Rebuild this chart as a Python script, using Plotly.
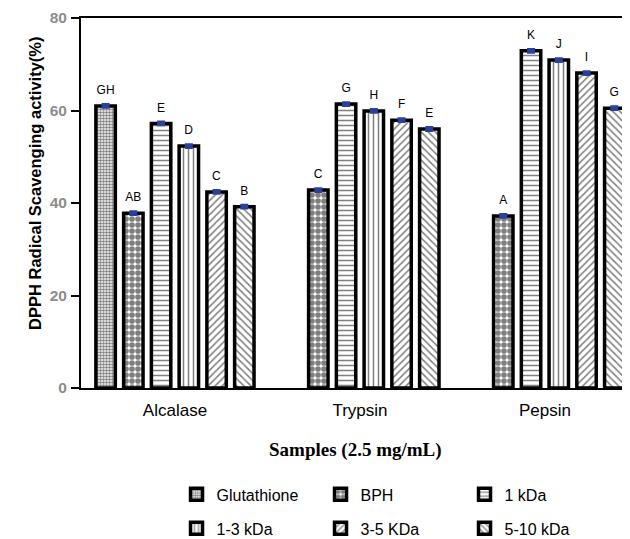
import plotly.graph_objects as go

categories = ["Alcalase", "Trypsin", "Pepsin"]
series_names = ["Glutathione", "BPH", "1 kDa", "1-3 kDa", "3-5 KDa", "5-10 kDa"]
glutathione = [61.0, None, None]
bph = [37.8, 42.8, 37.2]
kda_1 = [57.2, 61.4, 72.9]
kda_1_3 = [52.3, 59.9, 70.9]
kda_3_5 = [42.4, 57.9, 68.1]
kda_5_10 = [39.2, 56.0, 60.5]
errors = [0.3, 0.3, 0.3]
letters_glutathione = ["GH", "", ""]
letters_bph = ["AB", "C", "A"]
letters_1 = ["E", "G", "K"]
letters_1_3 = ["D", "H", "J"]
letters_3_5 = ["C", "F", "I"]
letters_5_10 = ["B", "E", "G"]
y_ticks = [0, 20, 40, 60, 80]

values = [glutathione, bph, kda_1, kda_1_3, kda_3_5, kda_5_10]
letters = [letters_glutathione, letters_bph, letters_1, letters_1_3, letters_3_5, letters_5_10]
patterns = [
    dict(shape=".", size=3, solidity=0.6),
    dict(shape=".", size=6, solidity=0.7),
    dict(shape="-", size=5, solidity=0.3),
    dict(shape="|", size=5, solidity=0.3),
    dict(shape="/", size=5, solidity=0.3),
    dict(shape="\\", size=5, solidity=0.3),
]
legend_ids = ["legend", "legend", "legend", "legend2", "legend2", "legend2"]

FONT = "Liberation Sans, Arial, sans-serif"
fig = go.Figure()
for name, vals, lets, pat, lg in zip(series_names, values, letters, patterns, legend_ids):
    fig.add_trace(go.Bar(
        name=name, x=categories, y=vals, legend=lg,
        marker=dict(color="white", line=dict(color="black", width=3.5),
                    pattern=dict(fgcolor="black", bgcolor="white", fillmode="overlay", **pat)),
        error_y=dict(type="data", array=errors, color="#2b3f9e", thickness=3, width=4),
        text=[("<span style='font-size:12px'>" + t + "</span><br> ") if t else "" for t in lets],
        textposition="outside", constraintext="none", cliponaxis=False,
        textfont=dict(family=FONT, size=6, color="black"),
    ))

legend_common = dict(orientation="h", xanchor="left", yanchor="top", entrywidth=99,
                     font=dict(family=FONT, size=16, color="black"),
                     traceorder="normal", itemwidth=30, bgcolor="rgba(0,0,0,0)")

fig.update_layout(
    width=622, height=531,
    margin=dict(l=73, r=0, t=10, b=151, autoexpand=False),
    paper_bgcolor="white", plot_bgcolor="white",
    barmode="group", bargap=0.1, bargroupgap=0.3,
    font=dict(family=FONT, color="black"),
    showlegend=True,
    legend=dict(x=0.174, y=-0.2415, **legend_common),
    legend2=dict(x=0.174, y=-0.3335, **legend_common),
    xaxis=dict(range=[-0.508, 2.46], showline=True, linecolor="black", linewidth=2,
               mirror=True, ticks="", tickfont=dict(family=FONT, size=17, color="black"),
               showgrid=False, zeroline=False, ticklabelstandoff=6),
    yaxis=dict(range=[0, 80], tickvals=y_ticks, showline=True, linecolor="black", linewidth=2,
               ticks="outside", ticklen=8, tickwidth=2, tickcolor="black",
               tickfont=dict(family=FONT, size=15.5, color="#8c8c8c", weight="bold"),
               showgrid=False, zeroline=False, ticklabelstandoff=1),
    annotations=[
        dict(text="<b>DPPH Radical Scavenging activity(%)</b>", textangle=-90,
             xref="paper", yref="paper", x=-0.084, y=0.554, xanchor="center", yanchor="middle",
             showarrow=False, font=dict(family=FONT, size=16.5, color="black")),
        dict(text="<b>Samples (2.5 mg/mL)</b>", xref="paper", yref="paper",
             x=0.5, y=-0.168, xanchor="center", yanchor="middle", showarrow=False,
             font=dict(family="Liberation Serif, Times New Roman, serif", size=19, color="black")),
    ],
)

fig.write_html("out.html")
